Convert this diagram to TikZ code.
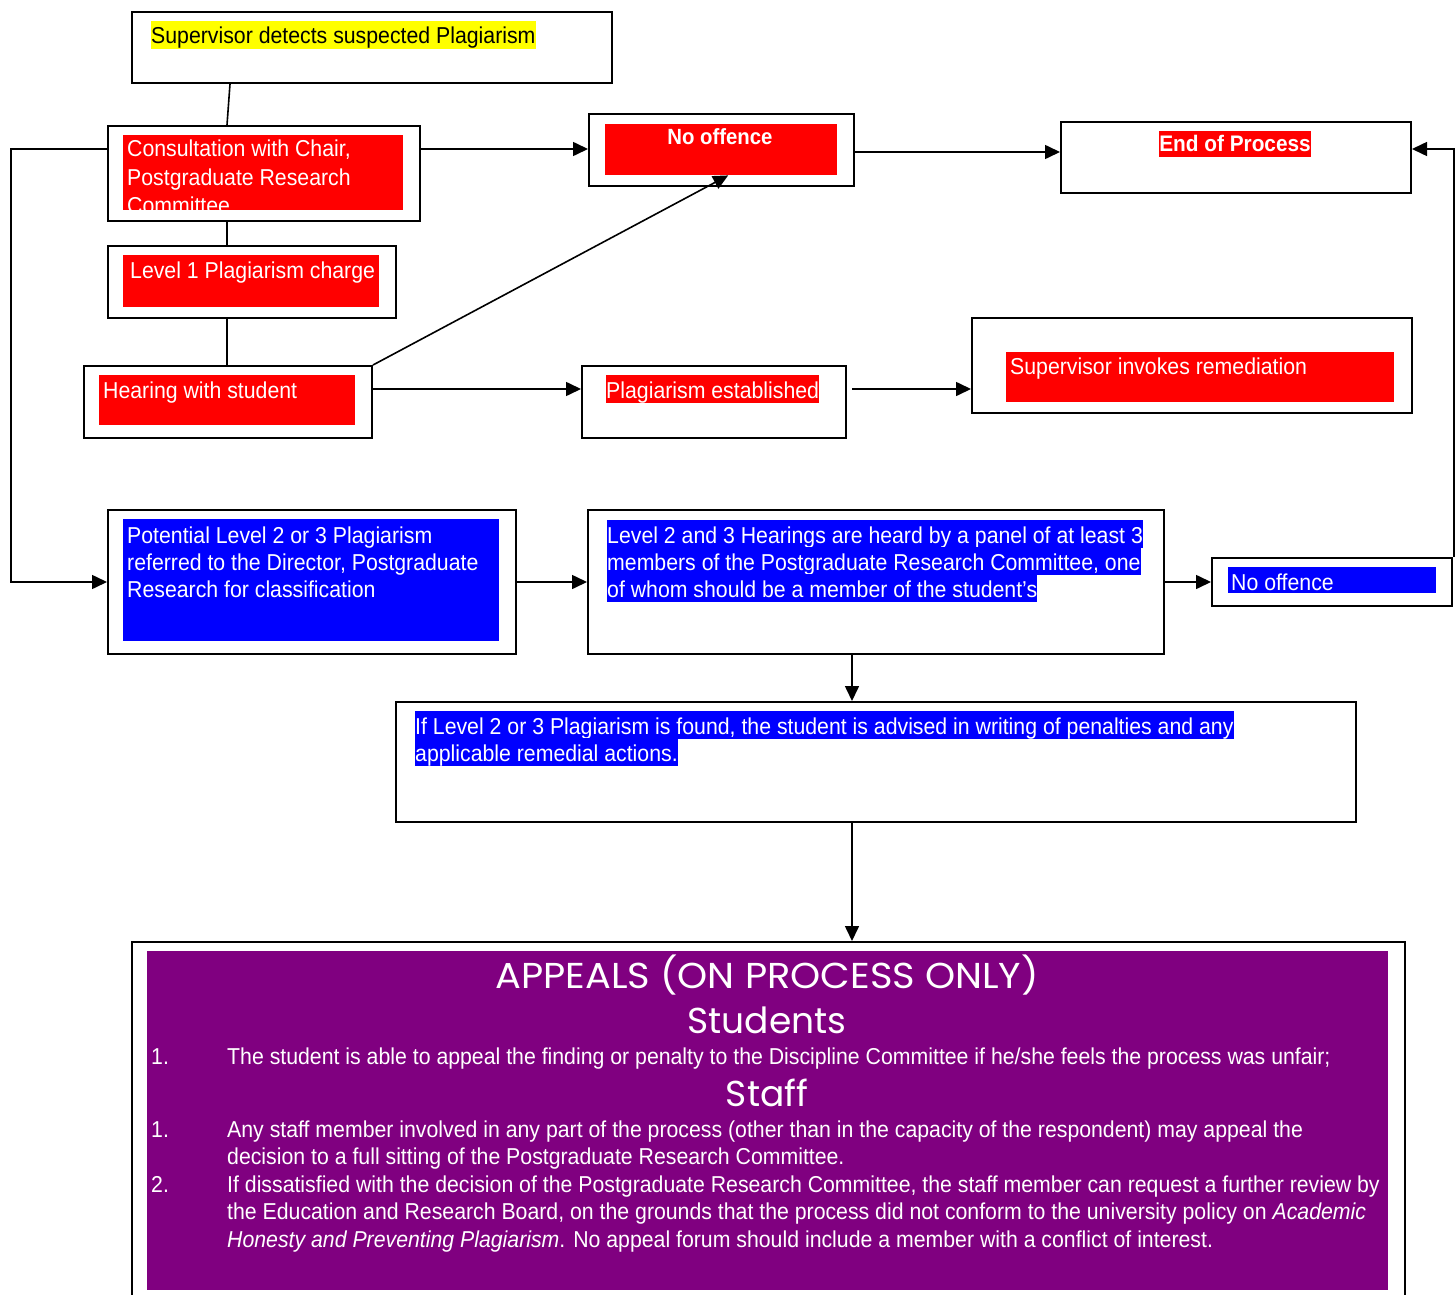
\documentclass[tikz,border=0pt]{standalone}
\usepackage{fontspec}
\setmainfont{Liberation Sans}[FakeStretch=0.925]
\newfontfamily\headfont{Poppins}
\usetikzlibrary{arrows.meta,calc}
\definecolor{hlred}{RGB}{255,0,0}
\definecolor{hlblue}{RGB}{0,0,255}
\definecolor{hlyel}{RGB}{255,255,0}
\definecolor{purp}{RGB}{128,0,128}
\begin{document}
\begin{tikzpicture}[x=1pt,y=-1pt,
  box/.style={draw=black,line width=2pt,fill=white,anchor=north west,inner sep=0pt},
  fillrect/.style={anchor=north west,inner sep=0pt,draw=none},
  txt/.style={anchor=base west,inner sep=0pt,text=white,font=\fontsize{23}{27.5}\selectfont},
  hl/.style={txt,text height=23pt,text depth=5pt},
  head/.style={txt,anchor=base,font=\headfont\fontsize{36}{40}\selectfont},
  conn/.style={line width=1.6pt},
  arr/.style={conn,-{Triangle[length=15pt,width=14pt]}}]
\clip (0,0) rectangle (1456,1295);
\fill[white] (0,0) rectangle (1456,1295);

% Boxes
\node[box,minimum width=480pt,minimum height=71pt] (b1) at (131,11) {};
\node[box,minimum width=312pt,minimum height=95pt] (b2) at (107,125) {};
\node[box,minimum width=288pt,minimum height=72pt] (b3) at (107,245) {};
\node[box,minimum width=288pt,minimum height=72pt] (b4) at (83,365) {};
\node[box,minimum width=265pt,minimum height=72pt] (b5) at (588,113) {};
\node[box,minimum width=350pt,minimum height=71pt] (b6) at (1060,121) {};
\node[box,minimum width=264pt,minimum height=72pt] (b7) at (581,365) {};
\node[box,minimum width=440pt,minimum height=95pt] (b8) at (971,317) {};
\node[box,minimum width=408pt,minimum height=144pt] (b9) at (107,509) {};
\node[box,minimum width=576pt,minimum height=144pt] (b10) at (587,509) {};
\node[box,minimum width=240pt,minimum height=48pt] (b11) at (1211,557) {};
\node[box,minimum width=960pt,minimum height=120pt] (b12) at (395,701) {};
\node[box,minimum width=1273pt,minimum height=380pt] (b13) at (131,941) {};

% Inner fills
\node[fillrect,fill=hlred,minimum width=280pt,minimum height=75pt] (r2) at (123,135) {};
\node[fillrect,fill=hlred,minimum width=256pt,minimum height=52pt] (r3) at (123,255) {};
\node[fillrect,fill=hlred,minimum width=256pt,minimum height=50pt] (r4) at (99,375) {};
\node[fillrect,fill=hlred,minimum width=232pt,minimum height=51pt] (r5) at (605,124) {};
\node[fillrect,fill=hlred,minimum width=388pt,minimum height=50pt] (r8) at (1006,352) {};
\node[fillrect,fill=hlblue,minimum width=376pt,minimum height=122pt] (r9) at (123,519) {};
\node[fillrect,fill=hlblue,minimum width=208pt,minimum height=26pt] (r11) at (1228,567) {};
\node[fillrect,fill=purp,minimum width=1241pt,minimum height=339pt] (r13) at (147,951) {};

% Texts
\node[hl,fill=hlyel,text=black] (t1) at (151,44) {Supervisor detects suspected Plagiarism};
\node[txt] (t2a) at (127,157) {Consultation with Chair,};
\node[txt] (t2b) at (127,185) {Postgraduate Research};
\node[txt] (t2c) at (127,213) {Committee};
\node[txt] (t3) at (130,278) {Level 1 Plagiarism charge};
\node[txt] (t4) at (103,398) {Hearing with student};
\node[txt,anchor=base,font=\bfseries\fontsize{22}{26}\selectfont] (t5) at (720,145) {No offence};
\node[hl,anchor=base,fill=hlred,font=\bfseries\fontsize{22.5}{26}\selectfont,text height=21pt,text depth=5pt] (t6) at (1235,152) {End of Process};
\node[hl,fill=hlred] (t7) at (606,398) {Plagiarism established};
\node[txt] (t8) at (1010,374) {Supervisor invokes remediation};
\node[txt] (t9a) at (127,543) {Potential Level 2 or 3 Plagiarism};
\node[txt] (t9b) at (127,570) {referred to the Director, Postgraduate};
\node[txt] (t9c) at (127,597) {Research for classification};
\node[hl,fill=hlblue] (t10a) at (607,543) {Level 2 and 3 Hearings are heard by a panel of at least 3};
\node[hl,fill=hlblue] (t10b) at (607,570) {members of the Postgraduate Research Committee, one};
\node[hl,fill=hlblue] (t10c) at (607,597) {of whom should be a member of the student’s};
\node[txt] (t11) at (1231,590) {No offence};
\node[hl,fill=hlblue] (t12a) at (415,734) {If Level 2 or 3 Plagiarism is found, the student is advised in writing of penalties and any};
\node[hl,fill=hlblue] (t12b) at (415,761) {applicable remedial actions.};

\node[head] (h1) at (767,988) {\scalebox{1.065}[1]{APPEALS (ON PROCESS ONLY)}};
\node[head] (h2) at (767,1033) {Students};
\node[txt] (s1n) at (151,1064) {1.};
\node[txt] (s1) at (227,1064) {The student is able to appeal the finding or penalty to the Discipline Committee if he/she feels the process was unfair;};
\node[head] (h3) at (767,1106) {Staff};
\node[txt] (f1n) at (151,1137) {1.};
\node[txt] (f1a) at (227,1137) {Any staff member involved in any part of the process (other than in the capacity of the respondent) may appeal the};
\node[txt] (f1b) at (227,1164) {decision to a full sitting of the Postgraduate Research Committee.};
\node[txt] (f2n) at (151,1192) {2.};
\node[txt] (f2a) at (227,1192) {If dissatisfied with the decision of the Postgraduate Research Committee, the staff member can request a further review by};
\node[txt] (f2b) at (227,1219) {the Education and Research Board, on the grounds that the process did not conform to the university policy on \textit{Academic}};
\node[txt] (f2c) at (227,1247) {\textit{Honesty and Preventing Plagiarism}. No appeal forum should include a member with a conflict of interest.};

% Connectors
\draw[conn] ([xshift=99pt]b1.south west) -- ([xshift=120pt]b2.north west);
\draw[conn] ([xshift=120pt]b2.south west) -- ([xshift=120pt]b3.north west);
\draw[conn] ([xshift=120pt]b3.south west) -- ([xshift=144pt]b4.north west);
\coordinate (c2e) at ([yshift=-24pt]b2.north east);
\draw[arr] (c2e) -- (c2e -| b5.west);
\coordinate (c5e) at ([yshift=-39pt]b5.north east);
\draw[arr] (c5e) -- (c5e -| b6.west);
\draw[arr] (b4.north east) -- ([xshift=7pt]r5.south);
\coordinate (c4e) at ([yshift=-24pt]b4.north east);
\draw[arr] (c4e) -- (c4e -| b7.west);
\coordinate (c7e) at ([xshift=5pt,yshift=-24pt]b7.north east);
\draw[arr] (c7e) -- (c7e -| b8.west);
\coordinate (c2w) at ([yshift=-24pt]b2.north west);
\draw[arr] (c2w) -- ++(-96,0) |- (b9.west);
\draw[arr] (b9.east) -- (b10.west);
\draw[arr] (b10.east) -- (b11.west);
\coordinate (c6e) at ([yshift=-28pt]b6.north east);
\draw[arr] ([xshift=1pt]b11.north east) |- (c6e);
\coordinate (c10s) at ([xshift=-24pt]b10.south);
\draw[arr] (c10s) -- (c10s |- b12.north);
\coordinate (c12s) at ([xshift=-24pt]b12.south);
\draw[arr] (c12s) -- (c12s |- b13.north);
\end{tikzpicture}
\end{document}
